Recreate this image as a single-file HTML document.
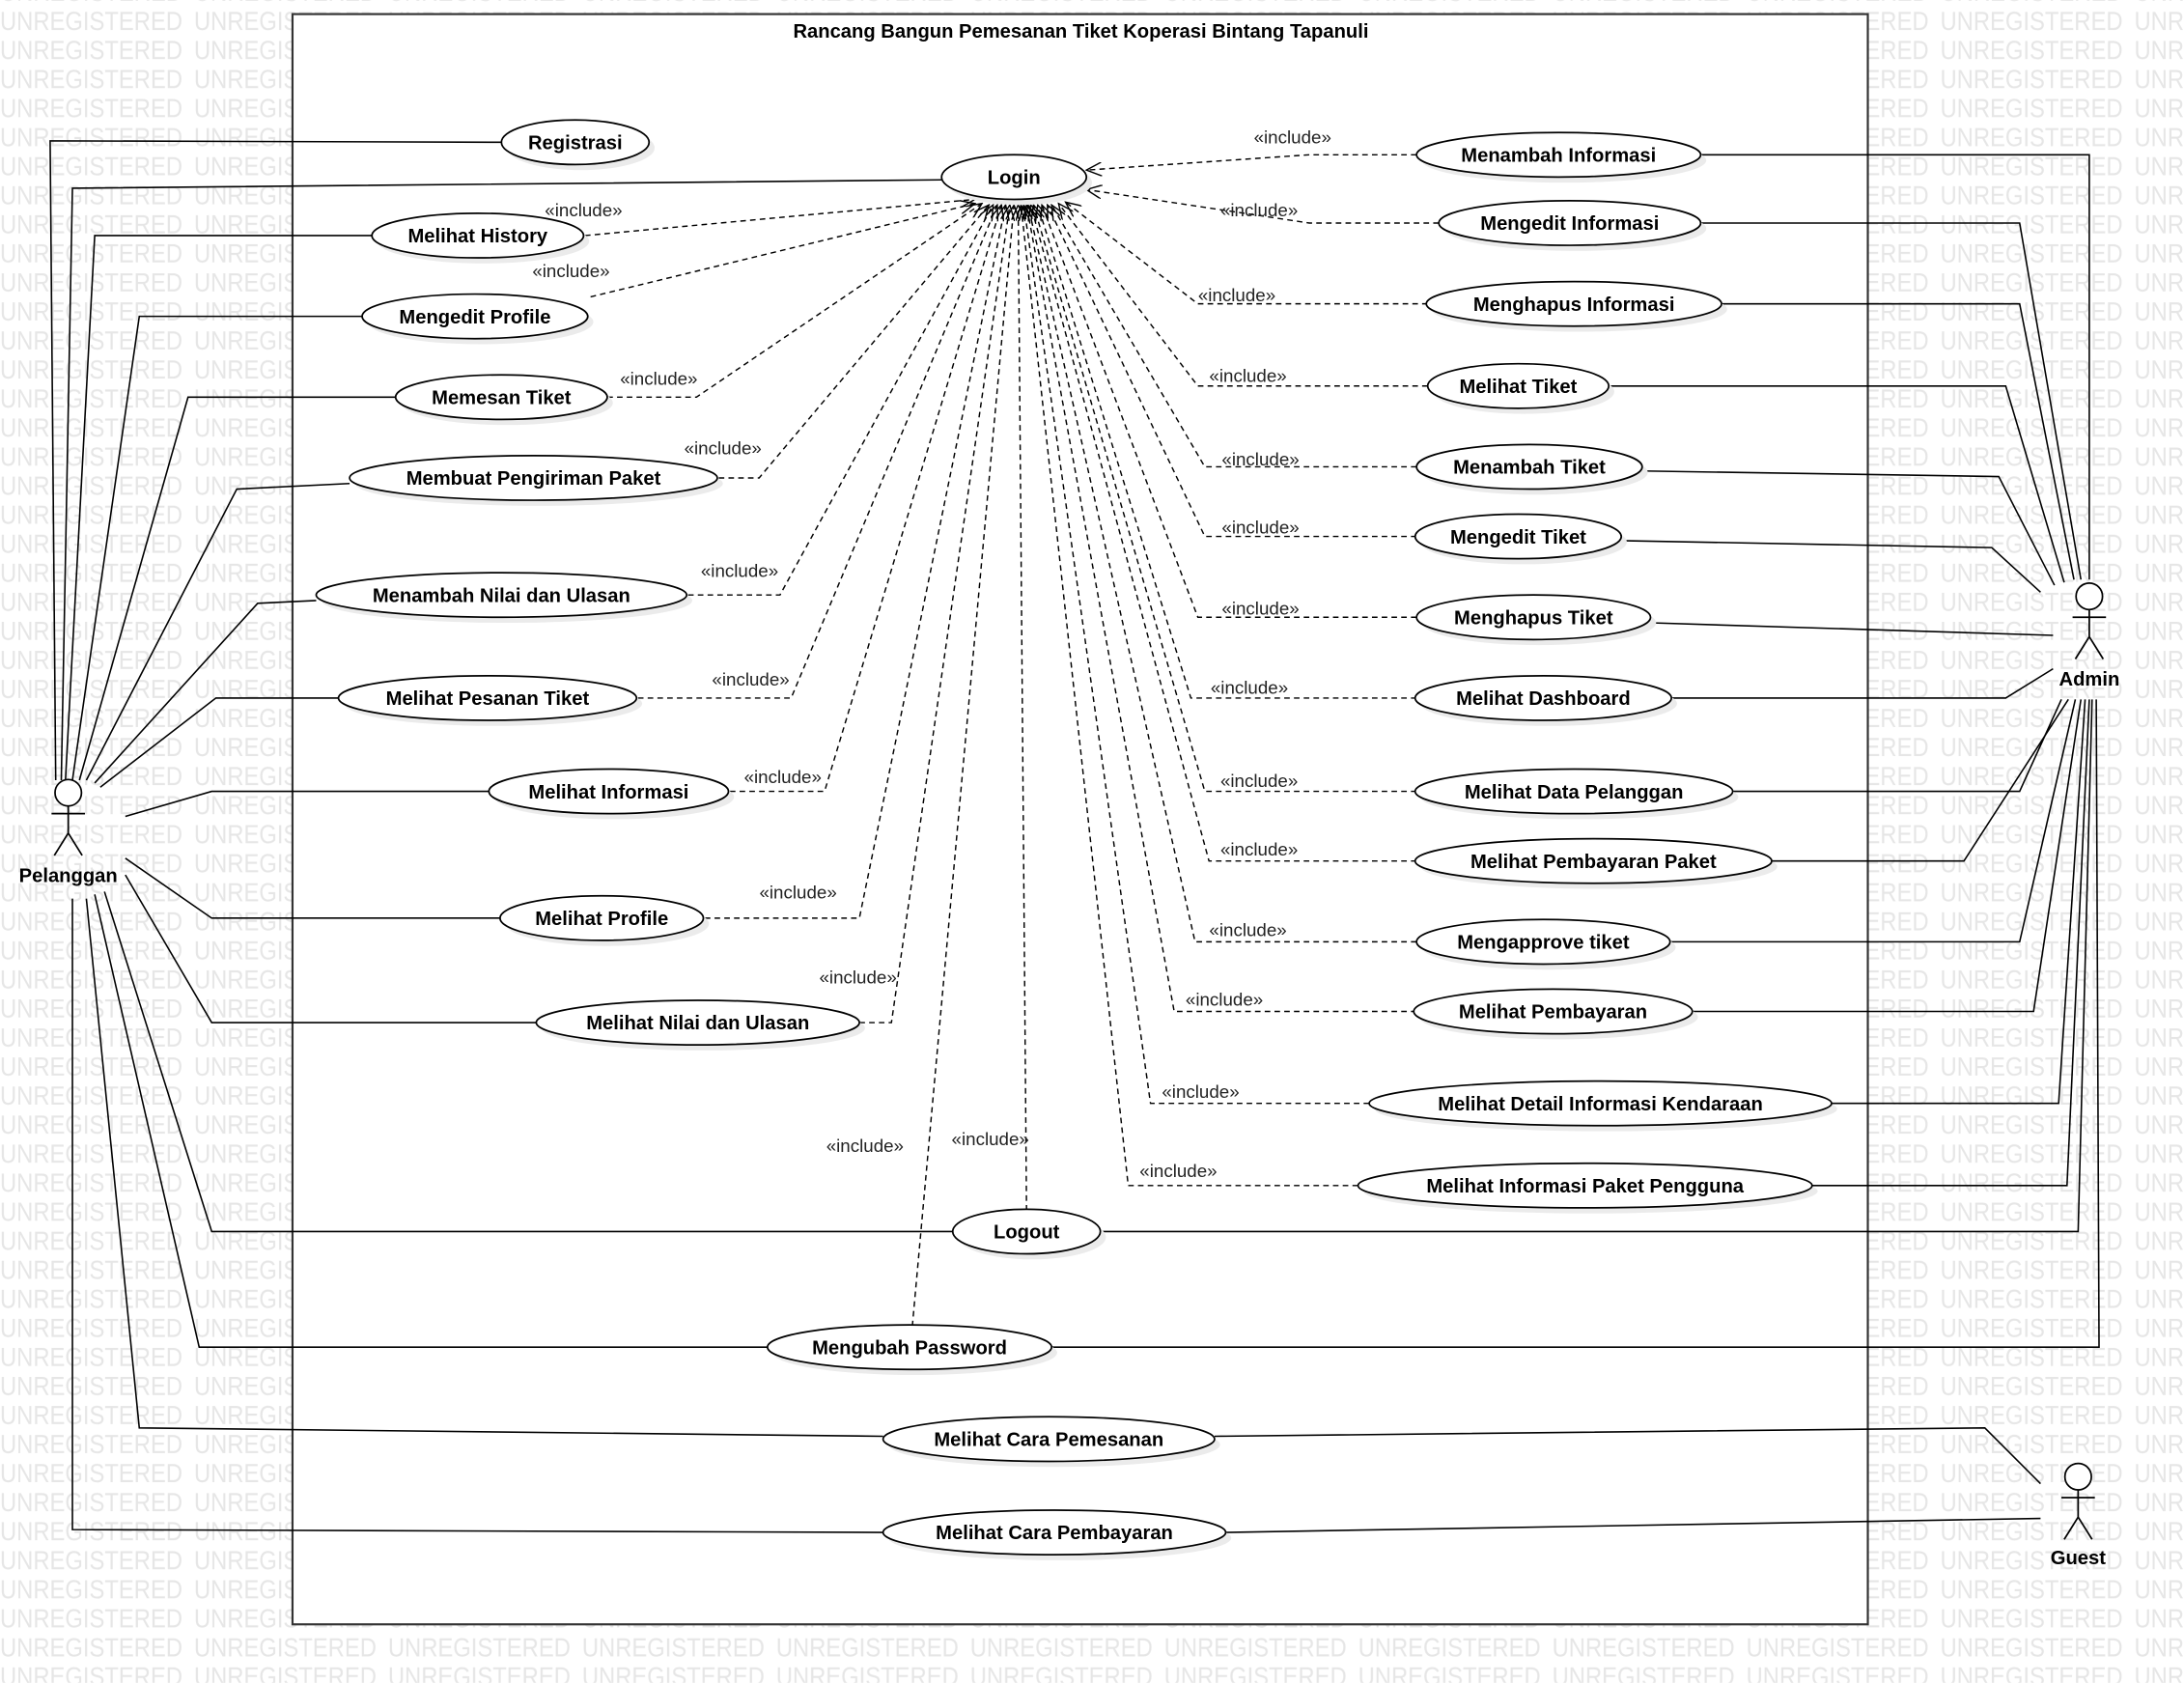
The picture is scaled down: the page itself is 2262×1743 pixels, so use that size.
<!DOCTYPE html>
<html><head><meta charset="utf-8"><style>
html,body{margin:0;padding:0;background:#fff;}
svg{display:block;}
.uc{font-family:"Liberation Sans",sans-serif;font-weight:bold;font-size:14px;fill:#000;}
.inc{font-family:"Liberation Sans",sans-serif;font-size:13px;fill:#222;}
.act{font-family:"Liberation Sans",sans-serif;font-weight:bold;font-size:14px;fill:#000;}
</style></head><body>
<svg width="2262" height="1743" viewBox="0 0 1568 1208" xmlns="http://www.w3.org/2000/svg">
<defs>
<pattern id="wm" x="0" y="4" width="139.3" height="20.85" patternUnits="userSpaceOnUse">
<text x="0" y="17.5" font-family="Liberation Sans, sans-serif" font-size="19" fill="#e6e6e6" textLength="131" lengthAdjust="spacingAndGlyphs">UNREGISTERED</text>
</pattern>
<marker id="ar" markerWidth="12" markerHeight="10" refX="11" refY="5" orient="auto" markerUnits="userSpaceOnUse">
<path d="M0,0 L11,5 L0,10" fill="none" stroke="#000" stroke-width="1"/>
</marker>
</defs>
<rect width="1568" height="1208" fill="url(#wm)"/>
<rect x="210" y="10" width="1131" height="1156" fill="#fff" stroke="#333" stroke-width="1.5"/>
<text x="776" y="27" text-anchor="middle" class="uc" font-size="12.6">Rancang Bangun Pemesanan Tiket Koperasi Bintang Tapanuli</text>

<g fill="none" stroke="#000" stroke-width="1.1">
<polyline points="40,560 36,101 360,102"/>
<polyline points="44,560 52,135 676,129"/>
<polyline points="47,560 68,169 267,169"/>
<polyline points="52,560 100,227 260,227"/>
<polyline points="57,560 135,285 284,285"/>
<polyline points="62,560 170,351 251,347"/>
<polyline points="68,562 185,433 227,431"/>
<polyline points="72,565 155,501 243,501"/>
<polyline points="90,586 152,568 351,568"/>
<polyline points="90,616 152,659 359,659"/>
<polyline points="90,628 152,734 385,734"/>
<polyline points="75,640 152,884 684,884"/>
<polyline points="68,642 143,967 551,967"/>
<polyline points="62,645 100,1025 634,1031"/>
<polyline points="52,645 52,1098 634,1100"/>
<polyline points="1221,111 1500,111 1500,416"/>
<polyline points="1221,160 1450,160 1494,416"/>
<polyline points="1236,218 1450,218 1489,416"/>
<polyline points="1155,277 1440,277 1482,418"/>
<polyline points="1179,338 1435,342 1475,420"/>
<polyline points="1164,388 1430,393 1465,425"/>
<polyline points="1185,447 1474,456"/>
<polyline points="1200,501 1440,501 1474,480"/>
<polyline points="1244,568 1450,568 1480,502"/>
<polyline points="1272,618 1410,618 1485,502"/>
<polyline points="1199,676 1450,676 1490,502"/>
<polyline points="1215,726 1460,726 1494,502"/>
<polyline points="1315,792 1478,792 1497,502"/>
<polyline points="1301,851 1484,851 1500,502"/>
<polyline points="790,884 1492,884 1502,502"/>
<polyline points="755,967 1507,967 1505,502"/>
<polyline points="872,1031 1425,1025 1465,1065"/>
<polyline points="880,1100 1465,1090"/>
</g>

<g fill="none" stroke="#000" stroke-width="1" stroke-dasharray="4,3" marker-end="url(#ar)">
<polyline points="420,169 700,143"/>
<polyline points="424,213 700,146"/>
<polyline points="436,285 500,285 705,146"/>
<polyline points="516,343 545,343 710,147"/>
<polyline points="494,427 560,427 713,147"/>
<polyline points="458,501 568,501 716,147"/>
<polyline points="524,568 592,568 719,147"/>
<polyline points="506,659 617,659 722,147"/>
<polyline points="617,734 640,734 725,147"/>
<polyline points="655,952 728,147"/>
<polyline points="737,869 731,147"/>
<polyline points="1017,111 940,111 780,122"/>
<polyline points="1033,160 940,160 780,136"/>
<polyline points="1025,218 860,218 765,145"/>
<polyline points="1025,277 860,277 760,146"/>
<polyline points="1017,335 865,335 755,147"/>
<polyline points="1017,385 865,385 752,147"/>
<polyline points="1017,443 860,443 748,147"/>
<polyline points="1017,501 855,501 745,147"/>
<polyline points="1017,568 865,568 742,147"/>
<polyline points="1017,618 868,618 740,147"/>
<polyline points="1017,676 858,676 738,147"/>
<polyline points="1017,726 843,726 737,147"/>
<polyline points="983,792 826,792 735,147"/>
<polyline points="975,851 810,851 733,147"/>
</g>

<g class="inc">
<text x="419" y="155" text-anchor="middle">«include»</text>
<text x="410" y="199" text-anchor="middle">«include»</text>
<text x="473" y="276" text-anchor="middle">«include»</text>
<text x="519" y="326" text-anchor="middle">«include»</text>
<text x="531" y="414" text-anchor="middle">«include»</text>
<text x="539" y="492" text-anchor="middle">«include»</text>
<text x="562" y="562" text-anchor="middle">«include»</text>
<text x="573" y="645" text-anchor="middle">«include»</text>
<text x="616" y="706" text-anchor="middle">«include»</text>
<text x="621" y="827" text-anchor="middle">«include»</text>
<text x="711" y="822" text-anchor="middle">«include»</text>
<text x="928" y="103" text-anchor="middle">«include»</text>
<text x="904" y="155" text-anchor="middle">«include»</text>
<text x="888" y="216" text-anchor="middle">«include»</text>
<text x="896" y="274" text-anchor="middle">«include»</text>
<text x="905" y="334" text-anchor="middle">«include»</text>
<text x="905" y="383" text-anchor="middle">«include»</text>
<text x="905" y="441" text-anchor="middle">«include»</text>
<text x="897" y="498" text-anchor="middle">«include»</text>
<text x="904" y="565" text-anchor="middle">«include»</text>
<text x="904" y="614" text-anchor="middle">«include»</text>
<text x="896" y="672" text-anchor="middle">«include»</text>
<text x="879" y="722" text-anchor="middle">«include»</text>
<text x="862" y="788" text-anchor="middle">«include»</text>
<text x="846" y="845" text-anchor="middle">«include»</text>
</g>

<g>
<g fill="#ebebeb">
<ellipse cx="417" cy="106" rx="53" ry="16"/><ellipse cx="732" cy="131" rx="52" ry="16"/>
<ellipse cx="347" cy="173" rx="76" ry="16"/><ellipse cx="345" cy="231" rx="81" ry="16"/>
<ellipse cx="364" cy="289" rx="76" ry="16"/><ellipse cx="387" cy="347" rx="132" ry="16"/>
<ellipse cx="364" cy="431" rx="133" ry="16"/><ellipse cx="354" cy="505" rx="107" ry="16"/>
<ellipse cx="441" cy="572" rx="86" ry="16"/><ellipse cx="436" cy="663" rx="73" ry="16"/>
<ellipse cx="505" cy="738" rx="116" ry="16"/><ellipse cx="741" cy="888" rx="53" ry="16"/>
<ellipse cx="657" cy="971" rx="102" ry="16"/><ellipse cx="757" cy="1037" rx="119" ry="16"/>
<ellipse cx="761" cy="1104" rx="123" ry="16"/>
<ellipse cx="1123" cy="115" rx="102" ry="16"/><ellipse cx="1131" cy="164" rx="94" ry="16"/>
<ellipse cx="1134" cy="222" rx="106" ry="16"/><ellipse cx="1094" cy="281" rx="65" ry="16"/>
<ellipse cx="1102" cy="339" rx="81" ry="16"/><ellipse cx="1094" cy="389" rx="74" ry="16"/>
<ellipse cx="1105" cy="447" rx="84" ry="16"/><ellipse cx="1112" cy="505" rx="92" ry="16"/>
<ellipse cx="1134" cy="572" rx="114" ry="16"/><ellipse cx="1148" cy="622" rx="128" ry="16"/>
<ellipse cx="1112" cy="680" rx="91" ry="16"/><ellipse cx="1119" cy="730" rx="100" ry="16"/>
<ellipse cx="1153" cy="796" rx="166" ry="16"/><ellipse cx="1142" cy="855" rx="163" ry="16"/>
</g>
<g fill="#fff" stroke="#000" stroke-width="1.2">
<ellipse cx="413" cy="102" rx="53" ry="16"/><ellipse cx="728" cy="127" rx="52" ry="16"/>
<ellipse cx="343" cy="169" rx="76" ry="16"/><ellipse cx="341" cy="227" rx="81" ry="16"/>
<ellipse cx="360" cy="285" rx="76" ry="16"/><ellipse cx="383" cy="343" rx="132" ry="16"/>
<ellipse cx="360" cy="427" rx="133" ry="16"/><ellipse cx="350" cy="501" rx="107" ry="16"/>
<ellipse cx="437" cy="568" rx="86" ry="16"/><ellipse cx="432" cy="659" rx="73" ry="16"/>
<ellipse cx="501" cy="734" rx="116" ry="16"/><ellipse cx="737" cy="884" rx="53" ry="16"/>
<ellipse cx="653" cy="967" rx="102" ry="16"/><ellipse cx="753" cy="1033" rx="119" ry="16"/>
<ellipse cx="757" cy="1100" rx="123" ry="16"/>
<ellipse cx="1119" cy="111" rx="102" ry="16"/><ellipse cx="1127" cy="160" rx="94" ry="16"/>
<ellipse cx="1130" cy="218" rx="106" ry="16"/><ellipse cx="1090" cy="277" rx="65" ry="16"/>
<ellipse cx="1098" cy="335" rx="81" ry="16"/><ellipse cx="1090" cy="385" rx="74" ry="16"/>
<ellipse cx="1101" cy="443" rx="84" ry="16"/><ellipse cx="1108" cy="501" rx="92" ry="16"/>
<ellipse cx="1130" cy="568" rx="114" ry="16"/><ellipse cx="1144" cy="618" rx="128" ry="16"/>
<ellipse cx="1108" cy="676" rx="91" ry="16"/><ellipse cx="1115" cy="726" rx="100" ry="16"/>
<ellipse cx="1149" cy="792" rx="166" ry="16"/><ellipse cx="1138" cy="851" rx="163" ry="16"/>
</g>
<g class="uc" text-anchor="middle">
<text x="413" y="107">Registrasi</text><text x="728" y="132">Login</text>
<text x="343" y="174">Melihat History</text><text x="341" y="232">Mengedit Profile</text>
<text x="360" y="290">Memesan Tiket</text><text x="383" y="348">Membuat Pengiriman Paket</text>
<text x="360" y="432">Menambah Nilai dan Ulasan</text><text x="350" y="506">Melihat Pesanan Tiket</text>
<text x="437" y="573">Melihat Informasi</text><text x="432" y="664">Melihat Profile</text>
<text x="501" y="739">Melihat Nilai dan Ulasan</text><text x="737" y="889">Logout</text>
<text x="653" y="972">Mengubah Password</text><text x="753" y="1038">Melihat Cara Pemesanan</text>
<text x="757" y="1105">Melihat Cara Pembayaran</text>
<text x="1119" y="116">Menambah Informasi</text><text x="1127" y="165">Mengedit Informasi</text>
<text x="1130" y="223">Menghapus Informasi</text><text x="1090" y="282">Melihat Tiket</text>
<text x="1098" y="340">Menambah Tiket</text><text x="1090" y="390">Mengedit Tiket</text>
<text x="1101" y="448">Menghapus Tiket</text><text x="1108" y="506">Melihat Dashboard</text>
<text x="1130" y="573">Melihat Data Pelanggan</text><text x="1144" y="623">Melihat Pembayaran Paket</text>
<text x="1108" y="681">Mengapprove tiket</text><text x="1115" y="731">Melihat Pembayaran</text>
<text x="1149" y="797">Melihat Detail Informasi Kendaraan</text><text x="1138" y="856">Melihat Informasi Paket Pengguna</text>
</g>
</g>

<g fill="#fff" stroke="#000" stroke-width="1.2">
<circle cx="49" cy="569" r="9.5"/>
<path d="M49,578.5 V598 M37,584 H61 M49,598 L39,614 M49,598 L59,614" fill="none"/>
<circle cx="1500" cy="428" r="9.5"/>
<path d="M1500,437.5 V457 M1488,443 H1512 M1500,457 L1490,473 M1500,457 L1510,473" fill="none"/>
<circle cx="1492" cy="1060" r="9.5"/>
<path d="M1492,1069.5 V1089 M1480,1075 H1504 M1492,1089 L1482,1105 M1492,1089 L1502,1105" fill="none"/>
</g>
<g class="act" text-anchor="middle">
<text x="49" y="633">Pelanggan</text>
<text x="1500" y="492">Admin</text>
<text x="1492" y="1123">Guest</text>
</g>
</svg>
</body></html>
